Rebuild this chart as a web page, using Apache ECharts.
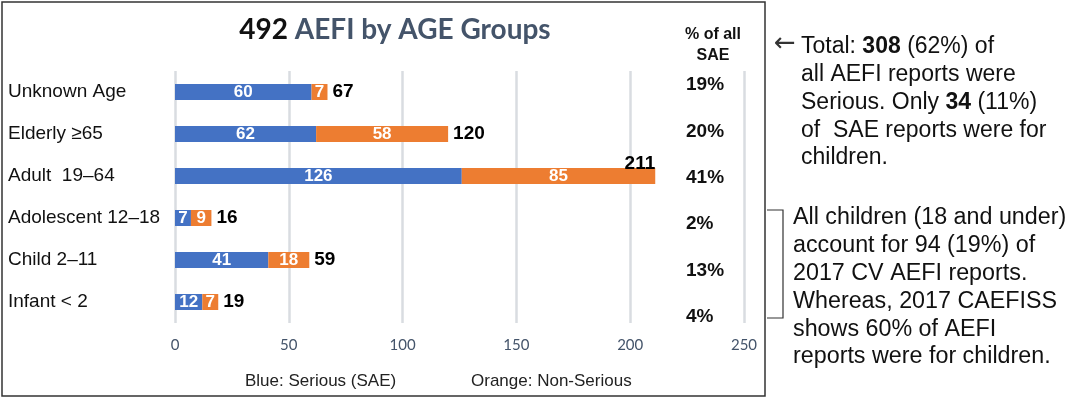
<!DOCTYPE html>
<html>
<head>
<meta charset="utf-8">
<script src="https://cdn.jsdelivr.net/npm/echarts@6/dist/echarts.min.js"></script>
<style>
html,body{margin:0;padding:0;background:#fff;}
#chart{width:1082px;height:401px;}
</style>
</head>
<body>
<div id="chart"></div>
<script>
// ---- data ----
const categories = ['Unknown Age', 'Elderly \u226565', 'Adult  19\u201364', 'Adolescent 12\u201318', 'Child 2\u201311', 'Infant < 2'];
const serious = [60, 62, 126, 7, 41, 12];
const nonSerious = [7, 58, 85, 9, 18, 7];
const pctOfSAE = ['19%', '20%', '41%', '2%', '13%', '4%'];
const xTicks = { min: 0, max: 250, interval: 50 };

const totals = serious.map((v, i) => v + nonSerious[i]);
const totalAll = totals.reduce((a, b) => a + b, 0);

const chart = echarts.init(document.getElementById('chart'));
const SANS = 'Liberation Sans, Arial, sans-serif';
const CAL = 'Lato, Carlito, sans-serif';
const BLUE = '#4472C4', ORANGE = '#ED7D31', SLATE = '#44546A', INK = '#111111';

const totalData = totals.map((t, i) => {
  const d = { value: [t, i] };
  if (t === Math.max(...totals)) {
    d.label = { position: 'top', align: 'right', distance: 3 };
  }
  return d;
});

const option = {
  animation: false,
  backgroundColor: '#fff',
  grid: [
    { left: 175, right: 338, top: 71, bottom: 78, containLabel: false },
    { left: 686, right: 322, top: 62, bottom: 61, containLabel: false }
  ],
  xAxis: [
    {
      gridIndex: 0, type: 'value', min: xTicks.min, max: xTicks.max, interval: xTicks.interval,
      axisLine: { show: false }, axisTick: { show: false },
      splitLine: { show: true, lineStyle: { color: '#D9DCE1', width: 2.5 } },
      axisLabel: { margin: 15, fontSize: 15, color: SLATE, fontFamily: CAL }
    },
    { gridIndex: 1, type: 'value', show: false }
  ],
  yAxis: [
    {
      gridIndex: 0, type: 'category', data: categories, inverse: true,
      axisLine: { show: false }, axisTick: { show: false }, splitLine: { show: false },
      axisLabel: { align: 'left', margin: 167, fontSize: 19, color: INK, fontFamily: SANS }
    },
    {
      gridIndex: 1, type: 'category', data: pctOfSAE, inverse: true,
      axisLine: { show: false }, axisTick: { show: false }, splitLine: { show: false },
      axisLabel: { align: 'left', margin: 0, fontSize: 19, fontWeight: 'bold', color: INK, fontFamily: SANS }
    }
  ],
  series: [
    {
      name: 'Serious', type: 'bar', stack: 'a', data: serious, barWidth: 16,
      itemStyle: { color: BLUE },
      label: { show: true, position: 'inside', color: '#fff', fontWeight: 'bold', fontSize: 17, fontFamily: SANS }
    },
    {
      name: 'Non-Serious', type: 'bar', stack: 'a', data: nonSerious, barWidth: 16,
      itemStyle: { color: ORANGE },
      label: { show: true, position: 'inside', color: '#fff', fontWeight: 'bold', fontSize: 17, fontFamily: SANS }
    },
    {
      name: 'Total', type: 'scatter', data: totalData, symbolSize: 0, silent: true,
      itemStyle: { color: '#000', opacity: 1 },
      label: {
        show: true, position: 'right', distance: 5,
        formatter: p => p.value[0],
        color: '#000', opacity: 1, fontWeight: 'bold', fontSize: 19, fontFamily: SANS
      }
    }
  ],
  graphic: [
    { type: 'rect', shape: { x: 2, y: 2, width: 763, height: 394 }, style: { fill: 'none', stroke: '#333', lineWidth: 1.5 } },
    {
      type: 'text', x: 395, y: 30,
      style: {
        text: '{a|' + totalAll + '}  {b|AEFI by AGE Groups}',
        align: 'center', verticalAlign: 'middle',
        rich: {
          a: { fontSize: 28, fontWeight: 'bold', fontFamily: CAL, fill: INK, color: INK },
          b: { fontSize: 28, fontWeight: 'bold', fontFamily: CAL, fill: SLATE, color: SLATE }
        }
      }
    },
    {
      type: 'text', x: 713, y: 45,
      style: { text: '% of all\nSAE', align: 'center', verticalAlign: 'middle', fontSize: 16, fontWeight: 'bold', fontFamily: SANS, fill: INK, lineHeight: 21 }
    },
    { type: 'text', x: 245, y: 381, style: { text: 'Blue: Serious (SAE)', align: 'left', verticalAlign: 'middle', fontSize: 17, fontFamily: SANS, fill: '#222' } },
    { type: 'text', x: 471, y: 381, style: { text: 'Orange: Non-Serious', align: 'left', verticalAlign: 'middle', fontSize: 17, fontFamily: SANS, fill: '#222' } },
    { type: 'text', x: 774, y: 44, style: { text: '\u2190', align: 'left', verticalAlign: 'middle', fontSize: 26, fontFamily: 'DejaVu Sans', fill: '#333' } },
    {
      type: 'text', x: 801, y: 33,
      style: {
        text: 'Total: {b|308} (62%) of\nall AEFI reports were\nSerious. Only {b|34} (11%)\nof  SAE reports were for\nchildren.',
        align: 'left', verticalAlign: 'top', fontSize: 23, fontFamily: SANS, fill: INK, lineHeight: 27.8,
        rich: { b: { fontSize: 23, fontWeight: 'bold', fontFamily: SANS, fill: INK, color: INK, lineHeight: 27.8 } }
      }
    },
    { type: 'polyline', shape: { points: [[767, 210], [783, 210], [783, 318], [767, 318]] }, style: { fill: 'none', stroke: '#333', lineWidth: 1.2 } },
    {
      type: 'text', x: 793, y: 204,
      style: {
        text: 'All children (18 and under)\naccount for 94 (19%) of\n2017 CV AEFI reports.\nWhereas, 2017 CAEFISS\nshows 60% of AEFI\nreports were for children.',
        align: 'left', verticalAlign: 'top', fontSize: 23.3, fontFamily: SANS, fill: INK, lineHeight: 27.8
      }
    }
  ]
};
chart.setOption(option);
</script>
</body>
</html>
